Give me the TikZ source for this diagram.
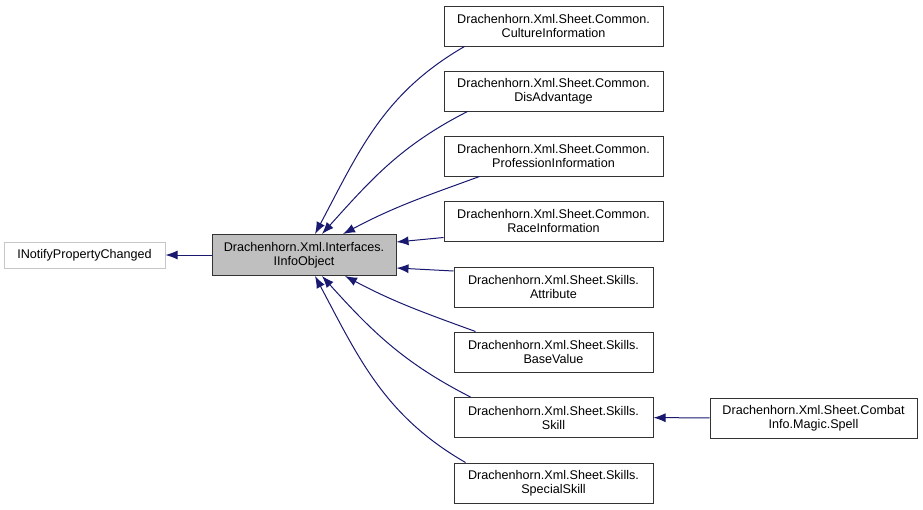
\documentclass[tikz,border=0pt]{standalone}
\usepackage{fontspec}
\setmainfont{Liberation Sans}
\usetikzlibrary{arrows.meta}
\definecolor{edgeblue}{RGB}{25,25,112}
\begin{document}
\begin{tikzpicture}[x=1pt,y=1pt]
\useasboundingbox (0,0) rectangle (923,-509);
\tikzset{>={Latex[length=12pt,width=9pt]}}
\tikzset{cls/.style={draw=black!80,line width=1pt,fill=white,align=center,inner sep=0pt,
  minimum height=40pt,font=\fontsize{12.6}{14}\selectfont},
  common/.style={cls,minimum width=219pt},
  skills/.style={cls,minimum width=199pt},
  edge/.style={edgeblue,line width=1pt,->}}
\node[cls,draw=gray!45,minimum width=161pt,minimum height=26pt] (notify) at (84.5,-255) {INotifyPropertyChanged};
\node[cls,fill=gray!50,minimum width=184pt,minimum height=41pt] (info) at (304,-255) {Drachenhorn.Xml.Interfaces.\\IInfoObject};
\node[common] (culture) at (553.5,-26) {Drachenhorn.Xml.Sheet.Common.\\CultureInformation};
\node[common] (disadv) at (553.5,-91) {Drachenhorn.Xml.Sheet.Common.\\DisAdvantage};
\node[common] (profession) at (553.5,-156) {Drachenhorn.Xml.Sheet.Common.\\ProfessionInformation};
\node[common] (race) at (553.5,-221) {Drachenhorn.Xml.Sheet.Common.\\RaceInformation};
\node[skills] (attribute) at (553.5,-287) {Drachenhorn.Xml.Sheet.Skills.\\Attribute};
\node[skills] (basevalue) at (553.5,-352) {Drachenhorn.Xml.Sheet.Skills.\\BaseValue};
\node[skills] (skill) at (553.5,-417.5) {Drachenhorn.Xml.Sheet.Skills.\\Skill};
\node[skills] (special) at (553.5,-483) {Drachenhorn.Xml.Sheet.Skills.\\SpecialSkill};
\node[cls,minimum width=207pt] (spell) at (813.5,-418) {Drachenhorn.Xml.Sheet.Combat\\Info.Magic.Spell};
% inheritance
\draw[edge] (info) -- (notify);
\draw[edge] (spell) -- (skill);
\draw[edge] ([xshift=21pt]culture.south west) to[out=210,in=62] ([xshift=11pt]info.north);
\draw[edge] ([xshift=24pt]disadv.south west) to[out=207,in=48] ([xshift=18pt]info.north);
\draw[edge] ([xshift=36pt]profession.south west) to[out=200,in=28] ([xshift=39pt]info.north);
\draw[edge] ([yshift=4pt]race.south west) -- ([yshift=13pt]info.east);
\draw[edge] ([yshift=16pt]attribute.west) -- ([yshift=-13pt]info.east);
\draw[edge] ([xshift=22pt]basevalue.north west) to[out=160,in=-28] ([xshift=41pt]info.south);
\draw[edge] ([xshift=17pt]skill.north west) to[out=153,in=-48] ([xshift=18pt]info.south);
\draw[edge] ([xshift=12pt]special.north west) to[out=150,in=-62] ([xshift=11pt]info.south);
\end{tikzpicture}
\end{document}
